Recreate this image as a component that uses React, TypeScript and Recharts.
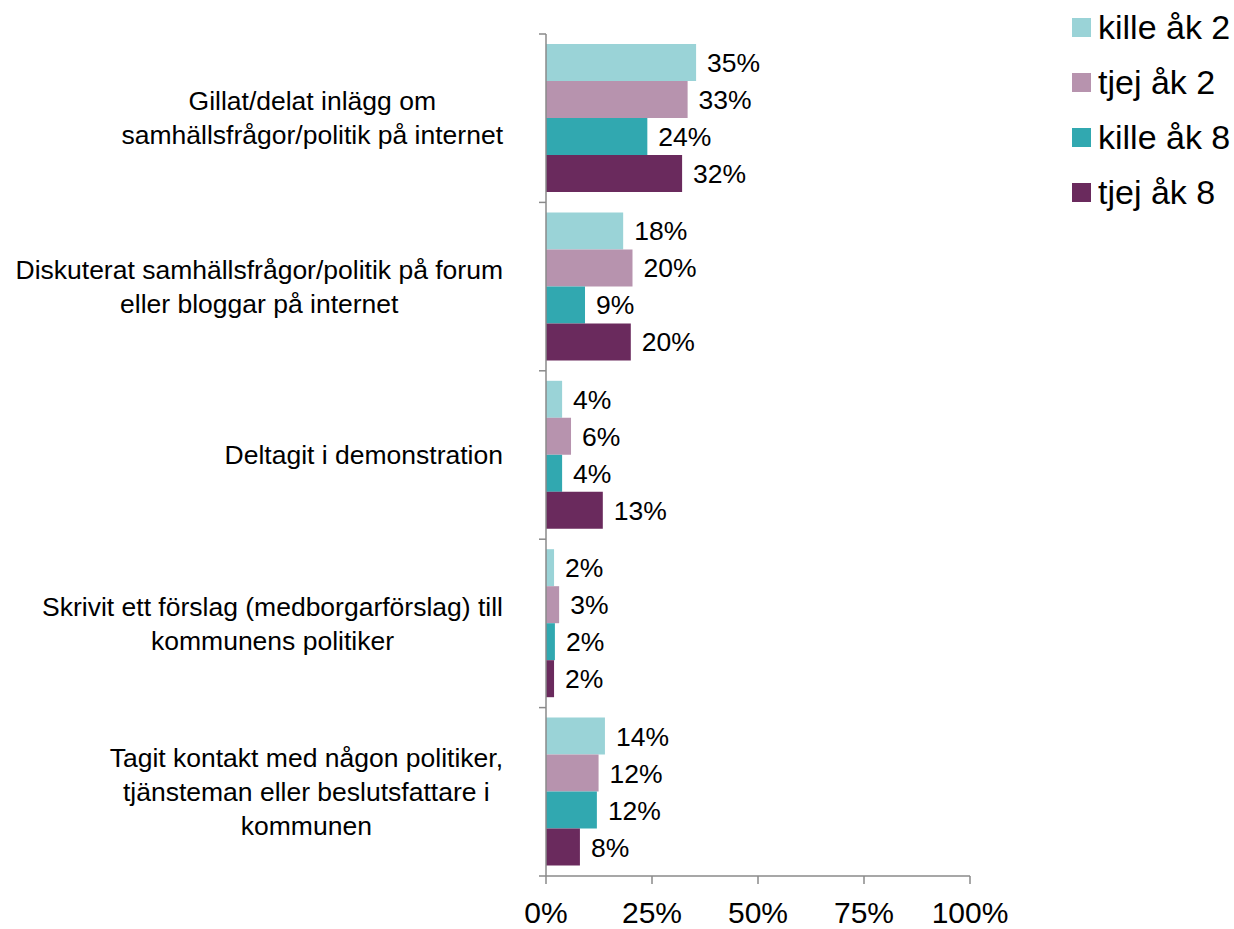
import React from 'react';
import { BarChart, Bar, XAxis, YAxis, LabelList } from 'recharts';

const categories = [
  'Gillat/delat inlägg om\nsamhällsfrågor/politik på internet',
  'Diskuterat samhällsfrågor/politik på forum\neller bloggar på internet',
  'Deltagit i demonstration',
  'Skrivit ett förslag (medborgarförslag) till\nkommunens politiker',
  'Tagit kontakt med någon politiker,\ntjänsteman eller beslutsfattare i\nkommunen',
];

const killeAk2 = [35.4, 18.2, 3.8, 1.9, 13.9];
const tjejAk2 = [33.4, 20.4, 5.9, 3.1, 12.4];
const killeAk8 = [23.9, 9.2, 3.8, 2.1, 12.0];
const tjejAk8 = [32.1, 20.0, 13.4, 1.9, 8.0];

const seriesNames = ['kille åk 2', 'tjej åk 2', 'kille åk 8', 'tjej åk 8'];
const seriesKeys = ['k2', 't2', 'k8', 't8'];
const seriesColors = ['#9AD3D7', '#B793AE', '#31A8B0', '#6A2A5D'];

const xTicks = [0, 25, 50, 75, 100];

const data = categories.map((name, i) => ({
  name,
  k2: killeAk2[i],
  t2: tjejAk2[i],
  k8: killeAk8[i],
  t8: tjejAk8[i],
}));

const FONT = "'Liberation Sans', Arial, sans-serif";
const AXIS = '#8a8a8a';
const CAT_SIZE = 26.5;

let ctx: CanvasRenderingContext2D | null = null;
function measure(s: string) {
  if (!ctx) ctx = document.createElement('canvas').getContext('2d');
  if (!ctx) return s.length * 12;
  ctx.font = `${CAT_SIZE}px ${FONT}`;
  return ctx.measureText(s).width;
}

// category label, plus Excel-style tick marks on the band edges
function CatTick(props: any) {
  const { x, y, payload, visibleTicksCount } = props;
  const half = payload.offset || 0;
  const lines = String(payload.value).split('\n');
  const w = Math.max(...lines.map(measure));
  const cx = x - 43 - w / 2;
  const lh = 34;
  const y0 = y - ((lines.length - 1) * lh) / 2;
  const last = payload.index === visibleTicksCount - 1;
  return (
    <g>
      <line x1={x - 7} x2={x} y1={y - half} y2={y - half} stroke={AXIS} strokeWidth={1.5} />
      {last && <line x1={x - 7} x2={x} y1={y + half} y2={y + half} stroke={AXIS} strokeWidth={1.5} />}
      <text textAnchor="middle" fontSize={CAT_SIZE} fill="#000" fontFamily={FONT}>
        {lines.map((l, i) => (
          <tspan key={i} x={cx} y={y0 + i * lh} dy="0.35em">
            {l}
          </tspan>
        ))}
      </text>
    </g>
  );
}

export default function App() {
  return (
    <div style={{ position: 'absolute', left: 0, top: 0, width: 1234, height: 929, fontFamily: FONT, background: '#fff' }}>
      <BarChart
        width={1234}
        height={929}
        data={data}
        layout="vertical"
        margin={{ top: 34, right: 264, bottom: 0, left: 0 }}
        barCategoryGap={10}
        barGap={0}
      >
        <XAxis
          type="number"
          domain={[0, 100]}
          ticks={xTicks}
          interval={0}
          tickFormatter={(v) => `${v}%`}
          height={53}
          tickSize={8}
          tickMargin={18}
          stroke={AXIS}
          strokeWidth={1.5}
          tick={{ fill: '#000', fontSize: 30, fontFamily: FONT }}
        />
        <YAxis
          type="category"
          dataKey="name"
          width={546}
          interval={0}
          tickSize={0}
          tickMargin={0}
          tickLine={false}
          stroke={AXIS}
          strokeWidth={1.5}
          tick={<CatTick />}
        />
        {seriesKeys.map((k, i) => (
          <Bar key={k} dataKey={k} name={seriesNames[i]} fill={seriesColors[i]} isAnimationActive={false}>
            <LabelList
              dataKey={k}
              position="right"
              offset={11}
              formatter={(v: any) => `${Math.round(Number(v))}%`}
              style={{ fill: '#000', fontSize: 26.5, fontFamily: FONT }}
            />
          </Bar>
        ))}
      </BarChart>
      <div style={{ position: 'absolute', left: 1072, top: 0 }}>
        {seriesNames.map((n, i) => (
          <div
            key={n}
            style={{ position: 'absolute', top: 18 + i * 55, left: 0, display: 'flex', alignItems: 'center', whiteSpace: 'nowrap' }}
          >
            <div style={{ width: 19, height: 19, background: seriesColors[i] }} />
            <span style={{ marginLeft: 7, fontSize: 34, lineHeight: '19px', color: '#000' }}>{n}</span>
          </div>
        ))}
      </div>
    </div>
  );
}
